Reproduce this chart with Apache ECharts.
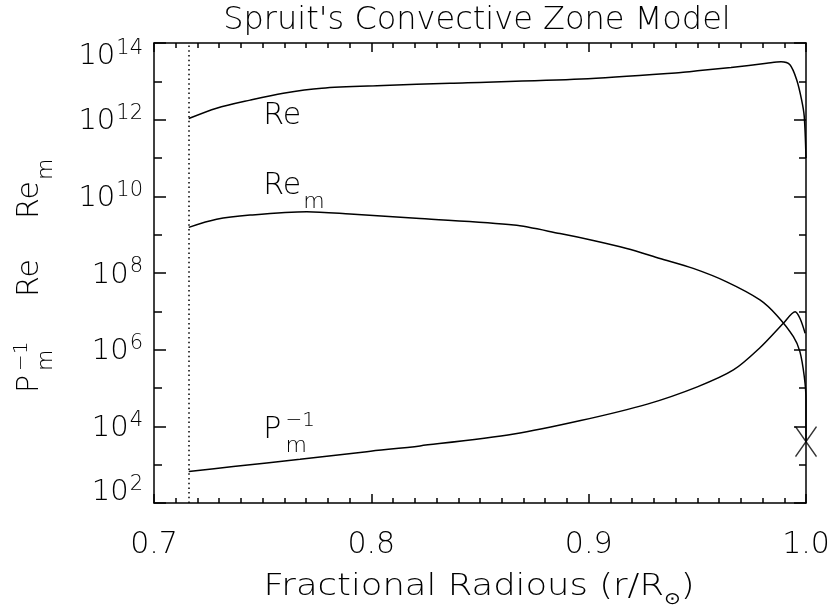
<!DOCTYPE html>
<html><head><meta charset="utf-8">
<script src="https://cdn.jsdelivr.net/npm/echarts@6.0.0/dist/echarts.min.js"></script>
<style>html,body{margin:0;padding:0;background:#fff}#c{width:834px;height:607px}</style>
</head><body><div id="c"></div>
<script>
// ---- data ----
const titleText = "Spruit's Convective Zone Model";
const xAxisTitle = ['Fractional Radious (r/R', '\u2299', ')'];
const xTickValues = [0.7, 0.8, 0.9, 1.0];
const yTickExponents = [2, 4, 6, 8, 10, 12, 14];   // axis in log10 units
const baseOfConvectionZone = 0.7158;

// Reynolds number Re (log10)
const reRadius = [0.716, 0.7288, 0.7442, 0.7595, 0.7772, 0.8055, 0.8362, 0.8965, 0.9425, 0.9512, 0.9655, 0.9819, 0.9885, 0.9926, 0.9957, 0.998, 0.9992, 1.0];
const reLog10  = [12.03, 12.30, 12.51, 12.69, 12.82, 12.89, 12.95, 13.06, 13.23, 13.28, 13.36, 13.47, 13.51, 13.43, 13.04, 12.51, 12.08, 11.0];

// Magnetic Reynolds number Re_m (log10)
const remRadius = [0.716, 0.7288, 0.7442, 0.7703, 0.7902, 0.8224, 0.8656, 0.8868, 0.9021, 0.9175, 0.9328, 0.9481, 0.9635, 0.9788, 0.9865, 0.9942, 0.9972, 0.9992, 1.0, 1.0];
const remLog10  = [9.19, 9.40, 9.51, 9.60, 9.54, 9.42, 9.25, 9.03, 8.85, 8.64, 8.38, 8.12, 7.77, 7.30, 6.90, 6.34, 5.95, 5.30, 4.70, 3.60];

// Inverse magnetic Prandtl number Pm^-1 (log10)
const pmRadius = [0.716, 0.7365, 0.7672, 0.7979, 0.8224, 0.8656, 0.8963, 0.927, 0.95, 0.9666, 0.9788, 0.9896, 0.995, 0.9972, 0.9996];
const pmLog10  = [2.82, 2.95, 3.14, 3.34, 3.49, 3.80, 4.15, 4.58, 5.03, 5.47, 6.05, 6.69, 6.99, 6.82, 6.43];

// surface marker (X)
const surfaceRadius = [1.0];
const surfaceLog10 = [3.6];

// ---- chart ----
const FONT = "'DejaVu Sans ExtraLight', 'DejaVu Sans', sans-serif";
const FW = 200;
const zip = (a, b) => a.map((v, i) => [v, b[i]]);
const chart = echarts.init(document.getElementById('c'), null, {renderer: 'canvas'});

const mctx = document.createElement('canvas').getContext('2d');
function measure(t, size) { mctx.font = FW + ' ' + size + 'px ' + FONT; return mctx.measureText(t).width; }

const lineStyle = {color: '#000', width: 1.5};
const axisCommon = {
  axisLine: {show: true, lineStyle: {color: '#000', width: 1.5}},
  splitLine: {show: false},
};
const tickStyle = {color: '#000', width: 1.5};

const option = {
  animation: false,
  backgroundColor: '#fff',
  title: {
    text: titleText, left: 472, top: 0, textAlign: 'center',
    textStyle: {fontFamily: FONT, fontWeight: FW, fontSize: 32, color: '#000'}
  },
  grid: {left: 154, right: 28, top: 43, bottom: 104, containLabel: false, outerBoundsMode: 'none'},
  xAxis: [{
    type: 'value', min: 0.7, max: 1.0, interval: 0.1, position: 'bottom',
    ...axisCommon,
    axisTick: {show: true, inside: true, length: 9, lineStyle: tickStyle},
    minorTick: {show: true, splitNumber: 10, length: 5, lineStyle: tickStyle},
    axisLabel: {
      margin: 27, fontSize: 30, fontFamily: FONT, fontWeight: FW, color: '#000',
      formatter: v => v.toFixed(1), showMinLabel: true, showMaxLabel: true
    }
  }, {
    type: 'value', min: 0.7, max: 1.0, interval: 0.1, position: 'top',
    ...axisCommon,
    axisTick: {show: true, inside: true, length: 9, lineStyle: tickStyle},
    minorTick: {show: true, splitNumber: 10, length: 5, lineStyle: tickStyle},
    axisLabel: {show: false}
  }],
  yAxis: [{
    type: 'value', min: 2, max: 14, interval: 2, position: 'left',
    ...axisCommon,
    axisTick: {show: true, inside: true, length: 12, lineStyle: tickStyle},
    minorTick: {show: true, splitNumber: 2, length: 8, lineStyle: tickStyle},
    axisLabel: {show: false}
  }, {
    type: 'value', min: 2, max: 14, interval: 2, position: 'right',
    ...axisCommon,
    axisTick: {show: true, inside: true, length: 12, lineStyle: tickStyle},
    minorTick: {show: true, splitNumber: 2, length: 7, lineStyle: tickStyle},
    axisLabel: {show: false}
  }],
  series: [{
    name: 'Re', type: 'line', data: zip(reRadius, reLog10), showSymbol: false,
    smooth: 0.3, lineStyle, itemStyle: {color: '#000'}, silent: true,
    markLine: {
      silent: true, symbol: ['none', 'none'], label: {show: false}, precision: 5,
      lineStyle: {color: '#000', width: 1.5, type: [1.5, 3.2]},
      data: [{xAxis: baseOfConvectionZone}]
    }
  }, {
    name: 'Rem', type: 'line', data: zip(remRadius, remLog10), showSymbol: false,
    smooth: 0.3, lineStyle, itemStyle: {color: '#000'}, silent: true
  }, {
    name: 'Pm-1', type: 'line', data: zip(pmRadius, pmLog10), showSymbol: false,
    smooth: 0.3, lineStyle, itemStyle: {color: '#000'}, silent: true
  }, {
    name: 'surface', type: 'scatter', data: zip(surfaceRadius, surfaceLog10), clip: false,
    symbol: 'path://M0,0L20,30M20,0L0,30', symbolSize: [21, 30],
    itemStyle: {color: 'none', borderColor: '#000', borderWidth: 1.5}, silent: true
  }]
};
chart.setOption(option);

function txt(t, x, y, size, align) {
  return {type: 'text', x: x, y: y, silent: true,
    style: {text: t, fontSize: size, fontFamily: FONT, fontWeight: FW, fill: '#000', align: align || 'left', verticalAlign: 'middle'}};
}
const graphics = [];

// ---- y tick labels 10^n (positions from the axis scale) ----
const plotLeft = chart.convertToPixel({xAxisIndex: 0}, 0.7);
const plotRight = chart.convertToPixel({xAxisIndex: 0}, 1.0);
yTickExponents.forEach(e => {
  const y = chart.convertToPixel({yAxisIndex: 0}, e);
  let dy = 2;
  if (e === 14) dy = 13.5;
  if (e === 2) dy = -10.5;
  const right = plotLeft - 11;
  const supW = measure(String(e), 21);
  graphics.push(txt('10', right - supW - 1, y + dy, 29, 'right'));
  graphics.push(txt(String(e), right, y + dy - 8, 21, 'right'));
});

// ---- x-axis title (wide lettering like the original) ----
const plotBottom = chart.convertToPixel({yAxisIndex: 0}, 2);
graphics.push({
  type: 'text', x: (plotLeft + plotRight) / 2 - 1, y: plotBottom + 87, scaleX: 1.18, silent: true,
  style: {
    text: '{a|' + xAxisTitle[0] + '}{o|' + xAxisTitle[1] + '}{a|' + xAxisTitle[2] + '}',
    align: 'center', verticalAlign: 'middle',
    rich: {
      a: {fontSize: 30, lineHeight: 36, fontFamily: FONT, fontWeight: FW, fill: '#000', verticalAlign: 'top'},
      o: {fontSize: 17, lineHeight: 17, fontFamily: FONT, fontWeight: FW, fill: '#000', verticalAlign: 'bottom'}
    }
  }
});

// ---- text annotations placed in data coordinates ----
const annotations = [
  {r: 0.7503, e: 12.10, base: 'Re', sub: null, sup: null},
  {r: 0.7503, e: 10.27, base: 'Re', sub: 'm', sup: null},
  {r: 0.7503, e: 3.90, base: 'P', sub: 'm', sup: '\u22121'}
];
annotations.forEach(a => {
  const p = chart.convertToPixel({xAxisIndex: 0, yAxisIndex: 0}, [a.r, a.e]);
  graphics.push(txt(a.base, p[0], p[1], 30));
  const w = measure(a.base, 30);
  if (a.sub) graphics.push(txt(a.sub, p[0] + w + (a.sup ? 4 : 2), p[1] + 16, 22));
  if (a.sup) graphics.push(txt(a.sup, p[0] + w + 4, p[1] - 9, 20));
});

// ---- rotated y-axis title: P_m^-1  Re  Re_m ----
const wP = measure('P', 30), wRe = measure('Re', 30);
const yNameParts = [
  txt('P', -114, 30, 30),
  txt('\u22121', -114 + wP + 4, 22, 20),
  txt('m', -114 + wP + 4, 46, 22),
  txt('Re', -18, 30, 30),
  txt('Re', 60, 30, 30),
  txt('m', 60 + wRe + 1, 46, 22)
];
const gridTop = chart.convertToPixel({yAxisIndex: 0}, 14);
graphics.push({
  type: 'group', x: 0, y: (gridTop + plotBottom) / 2 + 6, rotation: Math.PI / 2, silent: true,
  children: yNameParts
});
chart.setOption({graphic: graphics});
</script></body></html>
